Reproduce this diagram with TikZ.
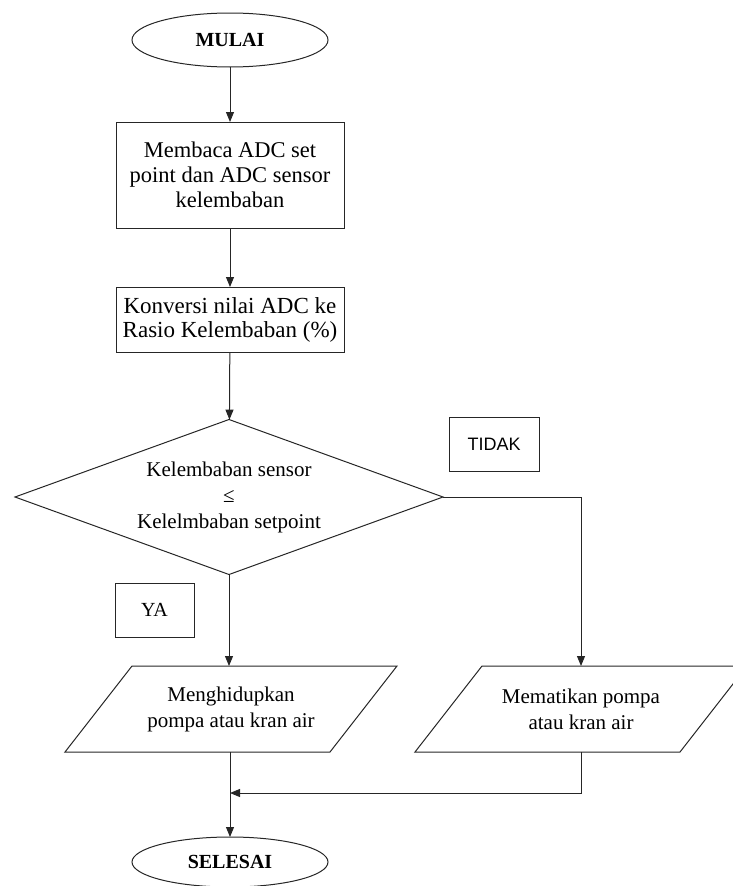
\documentclass[tikz,border=0pt]{standalone}
\usepackage{fontspec}
\setmainfont{Liberation Serif}
\newfontfamily\labelsans{Liberation Sans}
\usetikzlibrary{shapes.geometric,arrows.meta}

\begin{document}
\begin{tikzpicture}[x=1pt,y=-1pt,
  every node/.style={inner sep=0pt, outer sep=0pt},
  line/.style={line width=1pt, draw=black!85},
  flow/.style={line, -{Triangle[length=10pt,width=8pt]}},
  terminal/.style={ellipse, line, minimum width=196pt, minimum height=54pt,
    font=\fontsize{20}{24}\selectfont\bfseries},
  process/.style={rectangle, line, minimum width=228pt, align=center,
    font=\fontsize{22.5}{25}\selectfont},
  decision/.style={diamond, line, shape aspect=2.76, minimum width=428pt,
    minimum height=155pt, align=center, font=\fontsize{21}{26}\selectfont},
  iobox/.style={rectangle, minimum width=265pt, minimum height=86pt,
    align=center, font=\fontsize{21}{26}\selectfont},
  tag/.style={rectangle, line, minimum height=54pt}
]
\useasboundingbox (0,0) rectangle (733,886);
\clip (0,0) rectangle (733,886);

% start / end terminals
\node[terminal] (start) at (230,40) {MULAI};
\node[terminal, minimum height=50pt] (stop) at (230,862) {SELESAI};

% processing steps
\node[process, minimum height=106pt] (read) at (230,175)
  {Membaca ADC set\\point dan ADC sensor\\kelembaban};
\node[process, minimum height=65pt, font=\fontsize{23}{24}\selectfont] (conv) at (230,319.5)
  {Konversi nilai ADC ke\\Rasio Kelembaban (\%)};

% decision
\node[decision] (dec) at (229,497)
  {Kelembaban sensor\\≤\\Kelelmbaban setpoint};

% branch labels
\node[tag, minimum width=90pt, font=\labelsans\fontsize{18}{20}\selectfont] (no) at (494,444) {TIDAK};
\node[tag, minimum width=79pt, font=\fontsize{20}{24}\selectfont] (yes) at (154.5,610) {YA};

% output actions (parallelograms drawn from the node corners)
\node[iobox] (on) at (231,709) {Menghidupkan\\pompa atau kran air};
\node[iobox] (off) at (581,709) {Mematikan pompa\\atau kran air};
\foreach \n in {on,off}{
  \draw[line] ([xshift=33.5pt]\n.north west) -- ([xshift=33.5pt]\n.north east)
    -- ([xshift=-33.5pt]\n.south east) -- ([xshift=-33.5pt]\n.south west) -- cycle;
}

% connectors
\coordinate (join) at (230,793);
\draw[flow] (start) -- (read);
\draw[flow] (read) -- (conv);
\draw[flow] (conv) -- (dec);
\draw[flow] (dec.south) -- (dec.south |- on.north);
\draw[flow] (dec.east) -| (off.north);
\draw[line] (on.south -| join) -- (join);
\draw[flow] (join) -- (stop);
\draw[flow] (off.south) |- (join);
\end{tikzpicture}
\end{document}
